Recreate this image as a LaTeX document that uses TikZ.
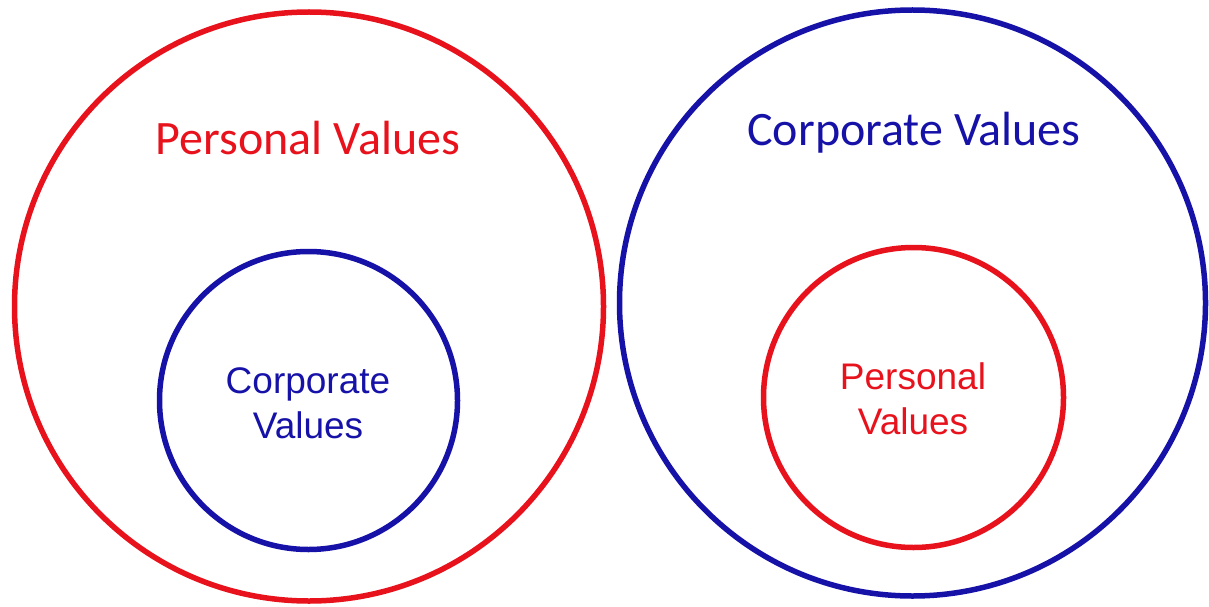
\documentclass[tikz,border=0pt]{standalone}
\usepackage{fontspec}
\setmainfont{Liberation Sans}
\newfontfamily\calfont{Carlito}
\definecolor{valred}{RGB}{232,18,28}
\definecolor{valblue}{RGB}{22,18,168}
\begin{document}
\begin{tikzpicture}[x=1pt,y=-1pt,
  ring/.style={draw,circle,line width=5.5pt,inner sep=0pt},
  bigtext/.style={font=\calfont\fontsize{48}{57}\selectfont},
  smalltext/.style={align=center,font=\fontsize{37}{45}\selectfont}]
\useasboundingbox (0,0) rectangle (1209,607);
% left: personal values round corporate values
\node [ring,valred,minimum size=589pt] (perbig) at (309,306.5) {};
\node [ring,valblue,minimum size=298pt] (corsmall) at (308.5,400.5) {};
\node [bigtext,text=valred] (perlabel) at (308,138) {Personal Values};
\node [smalltext,text=valblue] (corinner) at (308,403) {Corporate\\Values};

% right: corporate values round personal values
\node [ring,valblue,minimum size=586pt] (corbig) at (912.5,303) {};
\node [ring,valred,minimum size=300pt] (persmall) at (913.5,397.5) {};
\node [bigtext,text=valblue] (corlabel) at (914,133) {Corporate Values};
\node [smalltext,text=valred] (perinner) at (913,399) {Personal\\Values};
\end{tikzpicture}
\end{document}
